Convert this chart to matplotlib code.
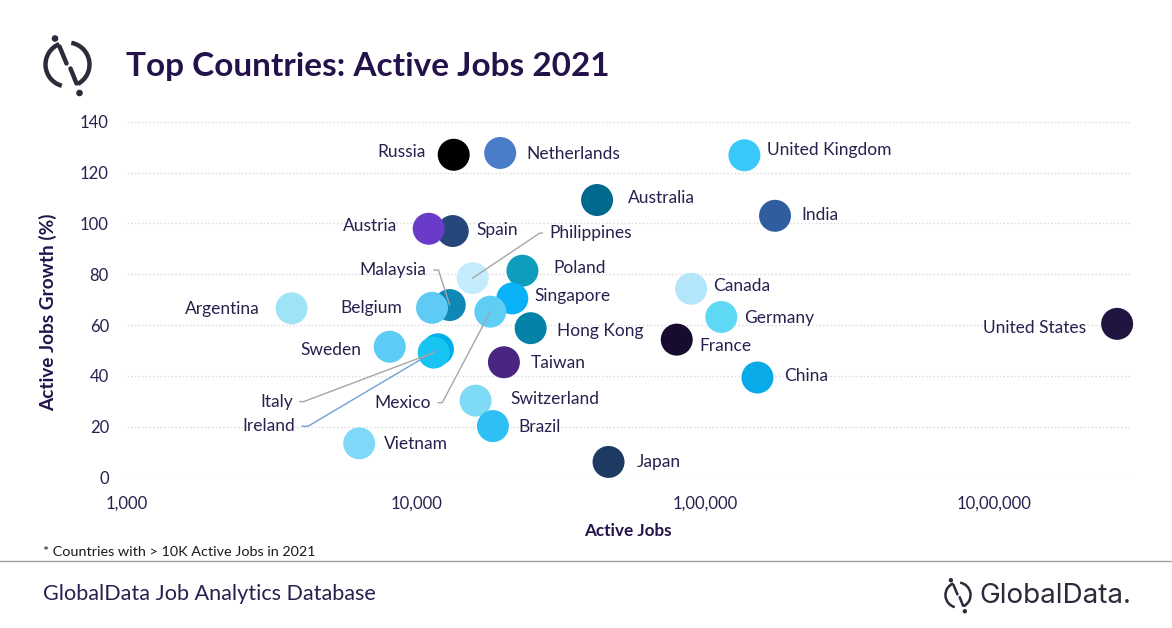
import numpy as np
import matplotlib.pyplot as plt
from matplotlib.patches import Arc, Circle

# Data
countries = ["Russia", "Netherlands", "United Kingdom", "Australia", "India",
             "Spain", "Austria", "Philippines", "Poland", "Malaysia", "Belgium",
             "Argentina", "Singapore", "Mexico", "Hong Kong", "Sweden", "Ireland",
             "Italy", "Taiwan", "Switzerland", "Brazil", "Vietnam", "Japan",
             "Canada", "Germany", "France", "China", "United States"]
active_jobs = [13500, 19550, 136800, 42300, 174600,
               13400, 11060, 15700, 23340, 13080, 11360,
               3710, 21530, 18070, 24920, 8110, 11910,
               11510, 20140, 16070, 18450, 6360, 46350,
               89500, 113800, 79800, 151800, 2665000]
growth = [127.0, 127.7, 126.8, 109.2, 103.0,
          97.0, 97.9, 78.5, 81.4, 67.9, 66.8,
          66.6, 70.5, 65.3, 58.8, 51.5, 50.5,
          49.2, 45.4, 30.3, 20.3, 13.5, 6.2,
          74.3, 63.2, 54.3, 39.4, 60.5]
colors = ["#000000", "#4a7cc7", "#38c8fa", "#006a8e", "#2f5d9e",
          "#26477a", "#6a3bc8", "#c4ecfc", "#0f9dbd", "#0e88b5", "#5ecbf7",
          "#9fe3f7", "#09b2f7", "#60cdf5", "#0482a8", "#5ccbf5", "#00aee8",
          "#18c4f2", "#4a2582", "#7fdbf5", "#2ebff5", "#80d8f8", "#1e3a63",
          "#b3e6fb", "#5ed8f5", "#170c2e", "#08aae8", "#211441"]

xtick_vals = [1000, 10000, 100000, 1000000]
xtick_labels = ["1,000", "10,000", "1,00,000", "10,00,000"]
ytick_vals = [0, 20, 40, 60, 80, 100, 120, 140]

# label offsets in pixels (dx, dy, ha)
label_pos = {
    "Russia": (-28, 3, "right"), "Netherlands": (26, -1, "left"),
    "United Kingdom": (23, 5, "left"), "Australia": (31, 2, "left"),
    "India": (26, 1, "left"), "Spain": (24, 1, "left"),
    "Austria": (-31, 3, "right"), "Philippines": (77, 45, "left"),
    "Poland": (31, 3, "left"), "Malaysia": (-23, 35, "right"),
    "Belgium": (-30, 0, "right"), "Argentina": (-32, -1, "right"),
    "Singapore": (22, 2, "left"), "Mexico": (-59, -91, "right"),
    "Hong Kong": (26, -3, "left"), "Sweden": (-28, -3, "right"),
    "Ireland": (-143, -77, "right"), "Italy": (-141, -49, "right"),
    "Taiwan": (27, -1, "left"), "Switzerland": (35, 2, "left"),
    "Brazil": (25, -1, "left"), "Vietnam": (25, -1, "left"),
    "Japan": (28, 0, "left"), "Canada": (22, 3, "left"),
    "Germany": (23, -1, "left"), "France": (23, -6, "left"),
    "China": (27, 2, "left"), "United States": (-31, -4, "right"),
}
# leader lines: corner offset from point in pixels, colour
leaders = {
    "Philippines": (70, 47, "#a6a6a6"),
    "Malaysia": (-11, 34, "#a6a6a6"),
    "Mexico": (-48, -91, "#a6a6a6"),
    "Italy": (-130, -49, "#a6a6a6"),
    "Ireland": (-130, -77, "#6f9fd8"),
}

TXT = "#2b1f4f"
W, H = 1172, 628
plt.rcParams["font.family"] = ["Lato", "DejaVu Sans"]

fig = plt.figure(figsize=(W / 100, H / 100), dpi=100)
ax = fig.add_axes([127 / W, 1 - 477.7 / H, (1132 - 127) / W, (477.7 - 121.7) / H])

ax.scatter(active_jobs, growth, s=530, c=colors, linewidths=0, zorder=3, clip_on=False)

for name, xv, yv in zip(countries, active_jobs, growth):
    dx, dy, ha = label_pos[name]
    kw = {}
    if name in leaders:
        cx, cy, lc = leaders[name]
        ang = np.degrees(np.arctan2(cy, cx))
        kw["arrowprops"] = dict(arrowstyle="-", color=lc, lw=1,
                                connectionstyle=f"angle,angleA=0,angleB={ang},rad=0",
                                shrinkA=3, shrinkB=0,
                                relpos=(1, 0.5) if ha == "right" else (0, 0.5))
    ax.annotate(name, (xv, yv), xytext=(dx, dy), textcoords="offset pixels",
                ha=ha, va="center", fontsize=12.5, color=TXT, zorder=4, **kw)

ax.set_xscale("log")
ax.set_xlim(1000, 3e6)
ax.set_ylim(0, 140)
ax.set_xticks(xtick_vals)
ax.set_xticklabels(xtick_labels)
ax.minorticks_off()
ax.set_yticks(ytick_vals)
ax.tick_params(length=0, labelsize=12, labelcolor=TXT)
ax.tick_params(axis="x", pad=13)
ax.tick_params(axis="y", pad=13)
ax.grid(axis="y", color="#d9d9d9", linestyle=":", linewidth=1)
for s in ax.spines.values():
    s.set_visible(False)

fig.text(48 / W, 1 - 312 / H, "Active Jobs Growth (%)", rotation=90, ha="center",
         va="center", fontsize=13.7, fontweight="bold", color="#24134a")
fig.text(628 / W, 1 - 531 / H, "Active Jobs", ha="center", va="center",
         fontsize=12.3, fontweight="bold", color="#24134a")

# title and footer
fig.text(126 / W, 1 - 76 / H, "Top Countries: Active Jobs 2021", ha="left",
         va="baseline", fontsize=24, fontweight="bold", color="#24134a")
fig.text(43 / W, 1 - 556 / H, "* Countries with > 10K Active Jobs in 2021",
         fontsize=10.4, color="#1a1a1a", va="baseline")
fig.add_artist(plt.Line2D([0, 1], [1 - 561 / H, 1 - 561 / H], color="#a0a0a0", lw=1))
fig.text(43 / W, 1 - 600 / H, "GlobalData Job Analytics Database",
         fontsize=15.6, color=TXT, va="baseline")
fig.text(979 / W, 1 - 603 / H, "GlobalData.", fontsize=20, color="#2d2a3a",
         va="baseline", family=["Inter", "DejaVu Sans"])

# logo icons drawn in pixel coordinates
lax = fig.add_axes([0, 0, 1, 1], zorder=5)
lax.set_xlim(0, W)
lax.set_ylim(0, H)
lax.axis("off")


def draw_logo(cx, cy, k):
    c = "#2d2a3a"
    lw = 3.2 * k
    r = 22 * k
    lax.add_patch(Arc((cx, H - cy), 2 * r, 2 * r, theta1=112, theta2=255, color=c, lw=lw))
    lax.add_patch(Arc((cx, H - cy), 2 * r, 2 * r, theta1=-62, theta2=80, color=c, lw=lw))
    for (x0, y0), (x1, y1) in [((-8, -18), (-1, -1)), ((3, 4), (9, 19))]:
        lax.plot([cx + x0 * k, cx + x1 * k], [H - cy - y0 * k, H - cy - y1 * k],
                 color=c, lw=lw, solid_capstyle="round")
    for ox, oy in [(-12.5, -26), (12, 28.5)]:
        lax.add_patch(Circle((cx + ox * k, H - cy - oy * k), 2.6 * k, color=c))


draw_logo(67.5, 64.5, 1.0)
draw_logo(958, 595, 0.57)

fig.savefig("out.png", dpi=100)
